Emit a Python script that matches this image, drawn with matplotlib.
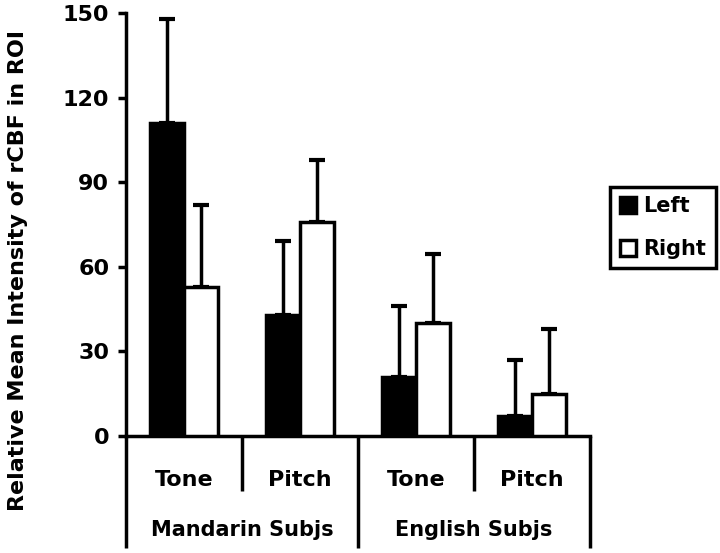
import matplotlib
matplotlib.use('Agg')
import matplotlib.pyplot as plt
import numpy as np

plt.rcParams['font.family'] = ['DejaVu Sans']
plt.rcParams['font.weight'] = 'bold'

# 数据
conditions = ['Tone', 'Pitch', 'Tone', 'Pitch']
groups = ['Mandarin Subjs', 'English Subjs']
left_mean = [111, 43, 21, 7]
left_err = [37, 26, 25, 20]
right_mean = [53, 76, 40, 15]
right_err = [29, 22, 24.5, 23]
y_ticks = [0, 30, 60, 90, 120, 150]

W, H = 720, 553
fig = plt.figure(figsize=(W / 100, H / 100), dpi=100)
# 坐标轴像素位置
ax_l, ax_r, ax_t, ax_b = 126, 590, 13, 436
ax = fig.add_axes([ax_l / W, 1 - ax_b / H, (ax_r - ax_l) / W, (ax_b - ax_t) / H])
ax_h = ax_b - ax_t

x = np.arange(len(conditions)) + 0.5
bw = 0.29
lw = 2.5

ax.bar(x - bw / 2, left_mean, bw, color='black', edgecolor='black', linewidth=lw, label='Left', zorder=3)
ax.bar(x + bw / 2, right_mean, bw, color='white', edgecolor='black', linewidth=lw, label='Right', zorder=3)
ax.errorbar(x - bw / 2, left_mean, yerr=[np.zeros(4), left_err], fmt='none', ecolor='black',
            elinewidth=2.5, capsize=5.5, capthick=3, zorder=2)
ax.errorbar(x + bw / 2, right_mean, yerr=[np.zeros(4), right_err], fmt='none', ecolor='black',
            elinewidth=2.5, capsize=5.5, capthick=3, zorder=2)

ax.set_xlim(0, 4)
ax.set_ylim(0, 150)
ax.set_yticks(y_ticks)
ax.tick_params(axis='y', direction='out', length=6, width=2.5, labelsize=16, pad=6)
ax.set_xticks([])
for s in ['top', 'right']:
    ax.spines[s].set_visible(False)
for s in ['left', 'bottom']:
    ax.spines[s].set_linewidth(2.5)

# 分类轴下方的分隔线和标签
tr = ax.get_xaxis_transform()
short_y = -(491 - ax_b) / ax_h
long_y = -(548 - ax_b) / ax_h
for xi in [0, 2, 4]:
    ax.plot([xi, xi], [0, long_y], color='black', lw=2.5, transform=tr, clip_on=False, solid_capstyle='butt')
for xi in [1, 3]:
    ax.plot([xi, xi], [0, short_y], color='black', lw=2.5, transform=tr, clip_on=False, solid_capstyle='butt')
for xi, c in zip(x, conditions):
    ax.text(xi, -(480 - ax_b) / ax_h, c, transform=tr, ha='center', va='center', fontsize=16)
for i, g in enumerate(groups):
    ax.text(2 * i + 1, -(530 - ax_b) / ax_h, g, transform=tr, ha='center', va='center', fontsize=15)

fig.text(18 / W, 1 - 270 / H, 'Relative Mean Intensity of rCBF in ROI', rotation=90,
         ha='center', va='center', fontsize=16)

leg = ax.legend(loc='center', bbox_to_anchor=(663 / W, 1 - 227.5 / H), bbox_transform=fig.transFigure,
                fontsize=15, frameon=True, fancybox=False, framealpha=1, handlelength=0.8, handleheight=0.8,
                handletextpad=0.35, borderpad=0.45, labelspacing=1.1, borderaxespad=0)
leg.get_frame().set_edgecolor('black')
leg.get_frame().set_linewidth(2.5)

fig.savefig('out.png', dpi=100)
